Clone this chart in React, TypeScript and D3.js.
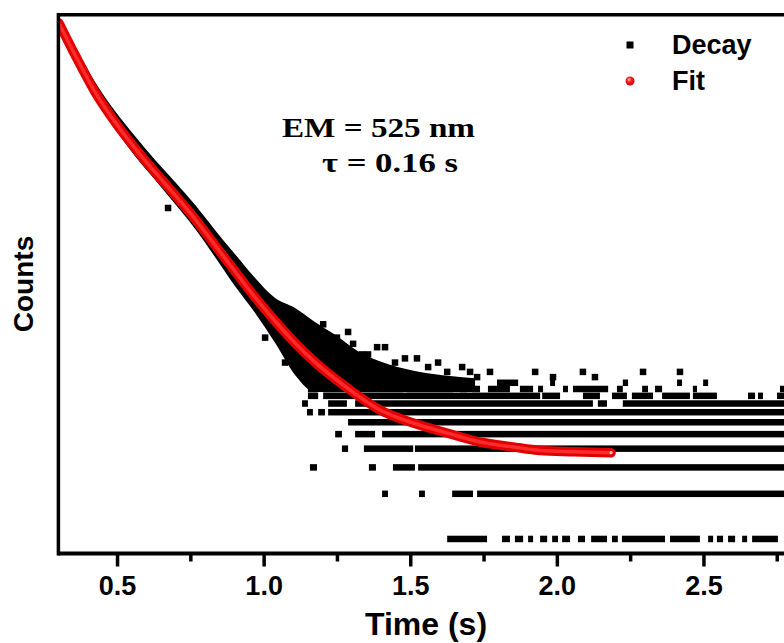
import React, { useEffect, useRef } from 'react';
import * as d3 from 'd3';

// fit curve (red)
const fitTime = [0.302, 0.357, 0.425, 0.493, 0.561, 0.629, 0.698, 0.766, 0.834, 0.902, 0.970, 1.039, 1.107, 1.175, 1.284, 1.397, 1.510, 1.625, 1.738, 1.850, 1.943, 2.055, 2.185];
const fitCounts = [2754, 1686, 955, 603, 404, 280, 196, 136, 91, 61, 41, 28.4, 20.3, 15.1, 10.2, 7.24, 5.93, 5.09, 4.43, 4.11, 3.89, 3.82, 3.76];

// dense part of the decay: envelope of the black points
const bandTime = [0.302, 0.357, 0.425, 0.493, 0.561, 0.630, 0.698, 0.766, 0.834, 0.902, 0.971, 1.039, 1.107, 1.175, 1.244, 1.329, 1.431, 1.533, 1.636, 1.721];
const bandUpper = [3020, 1936, 1113, 713, 486, 336, 240, 169, 115, 79.4, 55, 40.4, 34.7, 28, 23, 17.5, 14.5, 13, 12.2, 11.8];
const bandLower = [2630, 1538, 871, 550, 357, 247, 171, 117, 75.9, 48.6, 32.1, 20.3, 12.4, 9.55, 9.55, 9.55, 9.55, 9.55, 9.55, 9.55];

// tail of the decay: runs of points on integer count levels
const rowLevels = [1, 2, 3, 4, 5, 6, 7, 8, 9, 10, 11];
const rowRuns = [
    [[1.626, 1.762], [1.813, 1.840], [1.857, 1.885], [1.902, 1.919], [1.943, 1.967], [1.984, 2.004], [2.018, 2.045], [2.072, 2.096], [2.117, 2.171], [2.188, 2.208], [2.222, 2.369], [2.386, 2.488], [2.516, 2.533], [2.546, 2.567], [2.584, 2.608], [2.632, 2.649], [2.666, 2.754]],
    [[1.404, 1.424], [1.530, 1.550], [1.643, 1.714], [1.728, 2.8]],
    [[1.158, 1.182], [1.359, 1.383], [1.441, 1.516], [1.527, 2.8]],
    [[1.267, 1.288], [1.342, 1.510], [1.516, 2.8]],
    [[1.244, 1.267], [1.312, 1.380], [1.404, 2.8]],
    [[1.288, 2.8]],
    [[1.148, 1.168], [1.186, 1.209], [1.220, 2.8]],
    [[1.131, 1.151], [1.220, 1.284], [1.312, 2.123], [2.140, 2.171], [2.225, 2.8]],
    [[1.151, 1.186], [1.203, 1.943], [1.950, 2.011], [2.089, 2.147], [2.188, 2.239], [2.256, 2.328], [2.359, 2.454], [2.464, 2.546], [2.652, 2.676], [2.686, 2.703], [2.751, 2.775]],
    [[1.151, 1.182], [1.203, 1.475], [1.489, 1.646], [1.670, 1.694], [1.711, 1.738], [1.765, 1.840], [1.874, 1.919], [1.936, 1.953], [2.021, 2.038], [2.055, 2.175], [2.205, 2.225], [2.291, 2.311], [2.335, 2.359], [2.464, 2.478], [2.761, 2.775]],
    [[1.796, 1.868], [1.977, 1.994], [2.225, 2.243], [2.410, 2.427], [2.499, 2.516]],
];

// loose points
const looseTime = [0.674, 1.005, 1.073, 1.203, 1.250, 1.288, 1.305, 1.336, 1.356, 1.387, 1.414, 1.448, 1.482, 1.523, 1.561, 1.595, 1.626, 1.677, 1.704, 1.728, 1.772, 1.926, 1.987, 2.089, 2.130, 2.294, 2.420];
const looseCounts = [161, 22, 15, 27, 22, 24, 20, 17, 17, 19, 19, 15, 16, 16, 14, 15, 13, 14, 13, 12, 13, 13, 12, 13, 12, 13, 13];

const majorTicks = [0.5, 1.0, 1.5, 2.0, 2.5];
const minorTicks = [0.75, 1.25, 1.75, 2.25, 2.75];

const W = 784;
const H = 643;
const sans = "'Liberation Sans', Arial, Helvetica, sans-serif";
const serif = "'Liberation Serif', 'Times New Roman', serif";

const x = d3.scaleLinear().domain([0.3, 2.8]).range([58.4, 791.4]);
const y = d3.scaleLog().domain([0.8, 3130]).range([553.5, 14.7]);

const App = () => {
    const axisRef = useRef(null);

    useEffect(() => {
        const g = d3.select(axisRef.current);
        g.selectAll('*').remove();

        const major = d3.axisBottom(x).tickValues(majorTicks).tickSize(13).tickSizeOuter(0)
            .tickFormat(d3.format('.1f'));
        const minor = d3.axisBottom(x).tickValues(minorTicks).tickSize(8).tickSizeOuter(0)
            .tickFormat(() => '');

        const gMinor = g.append('g').call(minor);
        const gMajor = g.append('g').call(major);

        [gMinor, gMajor].forEach(a => {
            a.select('.domain').remove();
            a.selectAll('line').attr('stroke', '#000').attr('stroke-width', 3.5);
        });
        gMajor.selectAll('text')
            .attr('y', 41.5)
            .attr('dy', 0)
            .attr('fill', '#000')
            .style('font-family', sans)
            .style('font-size', '27px')
            .style('font-weight', 'bold');
    }, []);

    const fitLine = d3.line()
        .x(i => x(fitTime[i]))
        .y(i => y(fitCounts[i]))
        .curve(d3.curveMonotoneX);

    const band = d3.area()
        .x(i => x(bandTime[i]))
        .y0(i => y(bandLower[i]))
        .y1(i => y(bandUpper[i]))
        .curve(d3.curveMonotoneX);

    const fitIdx = fitTime.map((_, i) => i);
    const bandIdx = bandTime.map((_, i) => i);
    const m = 6.5;
    const lastFit = fitTime.length - 1;

    return (
        <svg width={W} height={H} style={{ position: 'absolute', left: 0, top: 0, background: '#fff' }}>
            <defs>
                <radialGradient id="ball" cx="0.4" cy="0.35" r="0.7">
                    <stop offset="0" stopColor="#ffd0d0" />
                    <stop offset="0.35" stopColor="#ff2020" />
                    <stop offset="1" stopColor="#c00000" />
                </radialGradient>
                <clipPath id="plot">
                    <rect x={x(0.3)} y={y(3130)} width={W - x(0.3)} height={y(0.8) - y(3130)} />
                </clipPath>
            </defs>

            <g clipPath="url(#plot)">
                <path d={band(bandIdx)} fill="#000" />
                {rowLevels.map((c, r) => rowRuns[r].map((run, k) => (
                    <rect key={`r${r}-${k}`} x={x(run[0])} y={y(c) - m / 2}
                        width={x(run[1]) - x(run[0])} height={m} fill="#000" />
                )))}
                {looseTime.map((t, i) => (
                    <rect key={`p${i}`} x={x(t) - m / 2} y={y(looseCounts[i]) - m / 2}
                        width={m} height={m} fill="#000" />
                ))}
                <path d={fitLine(fitIdx)} fill="none" stroke="#e00000" strokeWidth={9.5} strokeLinecap="round" />
                <path d={fitLine(fitIdx)} fill="none" stroke="#ff2a2a" strokeWidth={3.5} strokeLinecap="round" />
                <circle cx={x(fitTime[lastFit])} cy={y(fitCounts[lastFit])} r={1.6} fill="#ffc0c0" />
            </g>

            {/* frame */}
            <line x1={x(0.3)} x2={W} y1={y(3130)} y2={y(3130)} stroke="#000" strokeWidth={3.5} />
            <line x1={x(0.3)} x2={W} y1={y(0.8)} y2={y(0.8)} stroke="#000" strokeWidth={4} />
            <line x1={x(0.3)} x2={x(0.3)} y1={y(3130) - 1.75} y2={y(0.8) + 2} stroke="#000" strokeWidth={3.5} />

            <g ref={axisRef} transform={`translate(0,${y(0.8)})`} />

            <text x={426} y={635} textAnchor="middle" fontFamily={sans} fontWeight="bold" fontSize={32}>Time (s)</text>
            <text transform="translate(33,284) rotate(-90)" textAnchor="middle" fontFamily={sans} fontWeight="bold" fontSize={28}>Counts</text>

            <text x={282} y={137} fontFamily={serif} fontWeight="bold" fontSize={28}
                textLength={193} lengthAdjust="spacingAndGlyphs">EM = 525 nm</text>
            <text x={322} y={172} fontFamily={serif} fontWeight="bold" fontSize={28}
                textLength={136} lengthAdjust="spacingAndGlyphs">τ = 0.16 s</text>

            {/* legend */}
            <rect x={626.5} y={41.5} width={7} height={7} fill="#000" />
            <text x={672} y={54} fontFamily={sans} fontWeight="bold" fontSize={27}>Decay</text>
            <circle cx={630} cy={81} r={4.5} fill="url(#ball)" />
            <text x={672} y={90} fontFamily={sans} fontWeight="bold" fontSize={27}>Fit</text>
        </svg>
    );
};

export default App;
